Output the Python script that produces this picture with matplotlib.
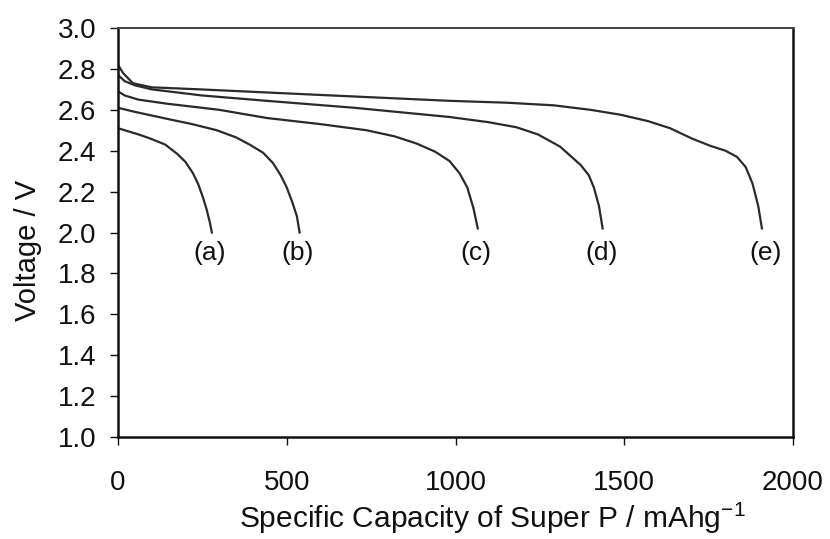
import matplotlib
matplotlib.use("Agg")
import matplotlib.pyplot as plt

plt.rcParams['font.family'] = ['Liberation Sans', 'DejaVu Sans']

# discharge curves (capacity mAh/g, voltage V)
cap_a = [0, 20, 60, 95, 140, 175, 200, 222, 238, 252, 263, 272, 278]
volt_a = [2.51, 2.50, 2.48, 2.46, 2.43, 2.385, 2.345, 2.29, 2.235, 2.17, 2.11, 2.05, 2.00]

cap_b = [0, 50, 145, 220, 293, 350, 390, 430, 459, 482, 500, 516, 530, 538]
volt_b = [2.61, 2.59, 2.556, 2.53, 2.50, 2.465, 2.43, 2.39, 2.34, 2.28, 2.22, 2.15, 2.08, 2.00]

cap_c = [0, 20, 60, 145, 300, 441, 600, 737, 820, 885, 940, 982, 1012, 1035, 1053, 1066]
volt_c = [2.69, 2.67, 2.65, 2.63, 2.60, 2.56, 2.53, 2.50, 2.47, 2.435, 2.395, 2.35, 2.29, 2.22, 2.12, 2.02]

cap_d = [0, 20, 50, 100, 250, 441, 700, 982, 1096, 1180, 1244, 1310, 1371, 1395, 1410, 1425, 1436]
volt_d = [2.77, 2.74, 2.72, 2.70, 2.67, 2.644, 2.61, 2.565, 2.54, 2.515, 2.48, 2.42, 2.33, 2.28, 2.22, 2.13, 2.02]

cap_e = [0, 15, 44, 100, 243, 636, 982, 1150, 1291, 1400, 1489, 1570, 1636, 1700, 1755, 1800, 1834, 1860, 1880, 1897, 1908]
volt_e = [2.82, 2.78, 2.73, 2.71, 2.70, 2.67, 2.644, 2.635, 2.622, 2.60, 2.576, 2.545, 2.51, 2.46, 2.424, 2.40, 2.37, 2.32, 2.24, 2.13, 2.02]

labels = ['(a)', '(b)', '(c)', '(d)', '(e)']
label_x = [270, 533, 1061, 1434, 1920]
label_y = 1.90

fig = plt.figure(figsize=(8.30, 5.39), dpi=100)
ax = fig.add_axes([0.1422, 0.1892, 0.8132, 0.7588])

for cx, vy in [(cap_a, volt_a), (cap_b, volt_b), (cap_c, volt_c), (cap_d, volt_d), (cap_e, volt_e)]:
    ax.plot(cx, vy, color='#2a2a2a', linewidth=1.6, solid_joinstyle='round')

for lab, lx in zip(labels, label_x):
    ax.text(lx, label_y, lab, ha='center', va='center', fontsize=19, color='#111111')

ax.set_xlim(0, 2000)
ax.set_ylim(1.0, 3.0)
ax.set_xticks([0, 500, 1000, 1500, 2000])
ax.set_yticks([1.0 + 0.2 * i for i in range(11)])
ax.set_yticklabels([f"{1.0 + 0.2 * i:.1f}" for i in range(11)])
ax.tick_params(axis='both', direction='out', length=5.5, width=1, labelsize=20, colors='#111111')
ax.tick_params(axis='x', pad=18)
ax.tick_params(axis='y', pad=10)

fig.text(492 / 830, 11 / 539, "Specific Capacity of Super P / mAhg$^{\\mathregular{-1}}$",
         fontsize=21.5, ha='center', va='baseline', color='#111111')
fig.text(28 / 830, 1 - 250 / 539, "Voltage / V", fontsize=21, rotation=90,
         ha='center', va='center', color='#111111')

for side in ['left', 'bottom', 'right']:
    ax.spines[side].set_color('#111111')
    ax.spines[side].set_linewidth(1.8)
ax.spines['top'].set_color('#444444')
ax.spines['top'].set_linewidth(1.4)

fig.savefig("out.png", dpi=100)
